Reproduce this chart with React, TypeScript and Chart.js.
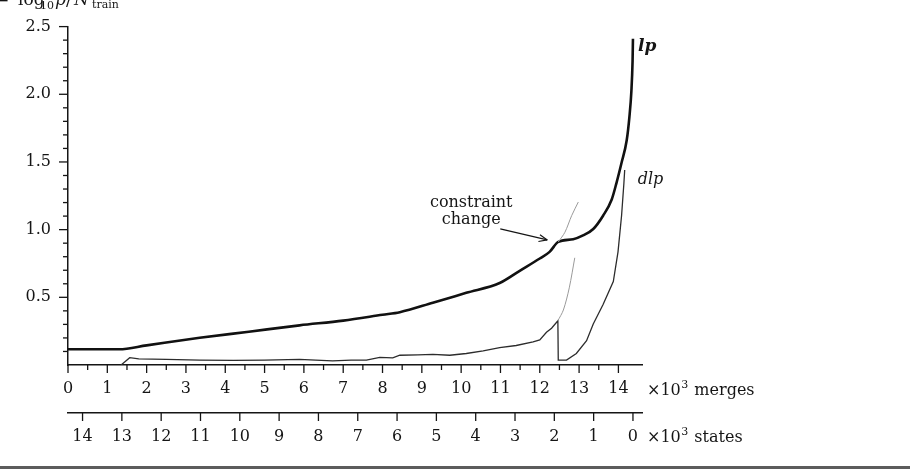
import { useEffect, useRef } from 'react';
import { Chart, registerables } from 'chart.js';

Chart.register(...registerables);

// ---- data (x in thousands of merges, y = -log10 p / N_train) ----
const lpMerges = [0, 1.3, 2.0, 3.35, 4.6, 5.89, 7.0, 8.0, 8.44, 9.28, 10.13, 10.98, 11.5, 12.0, 12.25, 12.47, 12.85, 13.1, 13.36, 13.61, 13.83, 13.95, 14.08, 14.21, 14.28, 14.33, 14.36, 14.37];
const lpValues = [0.116, 0.116, 0.145, 0.201, 0.246, 0.293, 0.328, 0.371, 0.39, 0.46, 0.533, 0.606, 0.698, 0.787, 0.836, 0.909, 0.929, 0.957, 1.005, 1.103, 1.223, 1.344, 1.494, 1.658, 1.833, 2.023, 2.243, 2.411];

const dlpMerges = [1.35, 1.57, 1.8, 2.5, 3.35, 4.2, 5.0, 5.89, 6.3, 6.73, 7.2, 7.59, 7.93, 8.26, 8.44, 8.9, 9.28, 9.71, 10.13, 10.56, 10.98, 11.4, 11.83, 12.0, 12.17, 12.3, 12.46, 12.47, 12.68, 12.93, 13.19, 13.36, 13.61, 13.87, 13.99, 14.08, 14.14, 14.16];
const dlpValues = [0.0, 0.054, 0.045, 0.041, 0.036, 0.034, 0.036, 0.041, 0.036, 0.031, 0.036, 0.036, 0.056, 0.053, 0.072, 0.075, 0.079, 0.072, 0.085, 0.104, 0.129, 0.144, 0.17, 0.185, 0.242, 0.272, 0.327, 0.036, 0.036, 0.085, 0.18, 0.303, 0.447, 0.617, 0.836, 1.103, 1.344, 1.441];

// faint continuations without the constraint change
const lpFreeMerges = [12.47, 12.64, 12.81, 12.98];
const lpFreeValues = [0.909, 0.981, 1.103, 1.204];
const dlpFreeMerges = [12.46, 12.6, 12.75, 12.89];
const dlpFreeValues = [0.327, 0.406, 0.57, 0.792];

const constraintChangeAt = 12.47;

// ---- ticks ----
const yLabelTicks = [0.5, 1.0, 1.5, 2.0, 2.5];
const yMinorTicks = [0.1, 0.2, 0.3, 0.4, 0.6, 0.7, 0.8, 0.9, 1.1, 1.2, 1.3, 1.4, 1.6, 1.7, 1.8, 1.9, 2.1, 2.2, 2.3, 2.4];
const mergeLabelTicks = [0, 1, 2, 3, 4, 5, 6, 7, 8, 9, 10, 11, 12, 13, 14];
const mergeMinorTicks = [0.5, 1.5, 2.5, 3.5, 4.5, 5.5, 6.5, 7.5, 8.5, 9.5, 10.5, 11.5, 12.5, 13.5];
const stateLabelTicks = [14, 13, 12, 11, 10, 9, 8, 7, 6, 5, 4, 3, 2, 1, 0];

const FAMILY = '"DejaVu Serif", "Liberation Serif", serif';
const INK = '#151515';

const pts = (xs: number[], ys: number[]) => xs.map((x, i) => ({ x, y: ys[i] }));

function interp(xs: number[], ys: number[], x: number) {
  for (let i = 1; i < xs.length; i++) {
    if (x <= xs[i]) {
      const t = (x - xs[i - 1]) / (xs[i] - xs[i - 1] || 1);
      return ys[i - 1] + t * (ys[i] - ys[i - 1]);
    }
  }
  return ys[ys.length - 1];
}

function drawSup(ctx: CanvasRenderingContext2D, x: number, y: number, pre: string, sup: string, post: string) {
  ctx.font = `16px ${FAMILY}`;
  ctx.fillText(pre, x, y);
  let cx = x + ctx.measureText(pre).width;
  ctx.font = `11px ${FAMILY}`;
  ctx.fillText(sup, cx + 0.5, y - 7);
  cx += ctx.measureText(sup).width + 1.5;
  ctx.font = `16px ${FAMILY}`;
  ctx.fillText(post, cx, y);
}

const decorPlugin = {
  id: 'decor',
  afterDraw(chart: any) {
    const ctx: CanvasRenderingContext2D = chart.ctx;
    const xs = chart.scales.x;
    const ss = chart.scales.states;
    const ys = chart.scales.y;
    const area = chart.chartArea;
    ctx.save();
    ctx.strokeStyle = INK;
    ctx.lineWidth = 1.3;
    const seg = (x1: number, y1: number, x2: number, y2: number) => {
      ctx.beginPath();
      ctx.moveTo(x1, y1);
      ctx.lineTo(x2, y2);
      ctx.stroke();
    };
    // y ticks (pointing left)
    yLabelTicks.forEach((v) => {
      const p = ys.getPixelForValue(v);
      seg(area.left - 9, p, area.left, p);
    });
    yMinorTicks.forEach((v) => {
      const p = ys.getPixelForValue(v);
      seg(area.left - 5, p, area.left, p);
    });
    // merges ticks (hanging down)
    mergeLabelTicks.forEach((v) => {
      const p = xs.getPixelForValue(v);
      seg(p, xs.top, p, xs.top + 8);
    });
    mergeMinorTicks.forEach((v) => {
      const p = xs.getPixelForValue(v);
      seg(p, xs.top, p, xs.top + 5);
    });
    // states ticks
    stateLabelTicks.forEach((v) => {
      const p = ss.getPixelForValue(v);
      seg(p, ss.top, p, ss.top + 8);
    });

    ctx.fillStyle = INK;
    ctx.textBaseline = 'alphabetic';
    ctx.textAlign = 'left';
    // axis unit labels
    const right = area.right;
    drawSup(ctx, right + 5, xs.top + 30, '\u00d710', '3', ' merges');
    drawSup(ctx, right + 5, ss.top + 29, '\u00d710', '3', ' states');

    // y axis title (clipped at top of picture)
    ctx.font = `17px ${FAMILY}`;
    ctx.fillText('\u2212', -5, 6);
    ctx.fillText('log', 18, 5);
    ctx.font = `11px ${FAMILY}`;
    ctx.fillText('10', 40, 9);
    ctx.font = `italic 17px ${FAMILY}`;
    ctx.fillText('p', 55, 5);
    ctx.font = `17px ${FAMILY}`;
    ctx.fillText('/', 66, 5);
    ctx.font = `italic 17px ${FAMILY}`;
    ctx.fillText('N', 74, 5);
    ctx.font = `11px ${FAMILY}`;
    ctx.fillText('train', 92, 8);

    // series labels
    const lpEndX = xs.getPixelForValue(lpMerges[lpMerges.length - 1]);
    const lpEndY = ys.getPixelForValue(lpValues[lpValues.length - 1]);
    ctx.font = `bold italic 17px ${FAMILY}`;
    ctx.fillText('lp', lpEndX + 5, lpEndY + 12);
    const dlpEndX = xs.getPixelForValue(dlpMerges[dlpMerges.length - 1]);
    const dlpEndY = ys.getPixelForValue(dlpValues[dlpValues.length - 1]);
    ctx.font = `italic 16px ${FAMILY}`;
    ctx.fillText('dlp', dlpEndX + 13, dlpEndY + 14);

    // constraint change annotation
    const kx = xs.getPixelForValue(constraintChangeAt);
    const ky = ys.getPixelForValue(interp(lpMerges, lpValues, constraintChangeAt));
    ctx.font = `16px ${FAMILY}`;
    ctx.textAlign = 'center';
    ctx.fillText('constraint', kx - 87, ky - 35);
    ctx.fillText('change', kx - 87, ky - 18);
    const ax1 = kx - 58, ay1 = ky - 13;
    const ax2 = kx - 11, ay2 = ky - 2;
    ctx.lineWidth = 1.2;
    seg(ax1, ay1, ax2, ay2);
    const ang = Math.atan2(ay2 - ay1, ax2 - ax1);
    const hl = 9;
    seg(ax2, ay2, ax2 - hl * Math.cos(ang - 0.4), ay2 - hl * Math.sin(ang - 0.4));
    seg(ax2, ay2, ax2 - hl * Math.cos(ang + 0.4), ay2 - hl * Math.sin(ang + 0.4));

    // bottom separator rule
    ctx.fillStyle = '#5c5c5c';
    ctx.fillRect(0, 466, chart.width, 3);
    ctx.restore();
  },
};

export default function App() {
  const ref = useRef<HTMLCanvasElement | null>(null);
  useEffect(() => {
    if (!ref.current) return;
    const tickFont = { family: FAMILY, size: 16 };
    const chart = new Chart(ref.current, {
      type: 'line',
      data: {
        datasets: [
          { label: 'lp-free', data: pts(lpFreeMerges, lpFreeValues), borderColor: '#9a9a9a', borderWidth: 1, pointRadius: 0, tension: 0.3 },
          { label: 'dlp-free', data: pts(dlpFreeMerges, dlpFreeValues), borderColor: '#9a9a9a', borderWidth: 1, pointRadius: 0, tension: 0.3 },
          { label: 'dlp', data: pts(dlpMerges, dlpValues), borderColor: '#2c2c2c', borderWidth: 1.3, pointRadius: 0, tension: 0 },
          { label: 'lp', data: pts(lpMerges, lpValues), borderColor: '#111', borderWidth: 2.6, pointRadius: 0, cubicInterpolationMode: 'monotone' },
        ],
      },
      options: {
        responsive: false,
        animation: false,
        devicePixelRatio: 1,
        layout: { padding: { left: 0, right: 268, top: 21, bottom: 19 } },
        plugins: { legend: { display: false }, tooltip: { enabled: false } },
        scales: {
          x: {
            type: 'linear',
            position: 'bottom',
            min: 0,
            max: 14.6,
            afterBuildTicks: (sc: any) => { sc.ticks = mergeLabelTicks.map((v) => ({ value: v })); },
            afterFit: (sc: any) => { sc.height = 48; },
            ticks: { autoSkip: false, maxRotation: 0, padding: 14, font: tickFont, color: INK, callback: (v: any) => String(v) },
            grid: { display: true, drawOnChartArea: false, drawTicks: false },
            border: { display: true, color: INK, width: 1.5 },
          },
          states: {
            type: 'linear',
            position: 'bottom',
            reverse: true,
            min: -0.23,
            max: 14.37,
            afterBuildTicks: (sc: any) => { sc.ticks = stateLabelTicks.map((v) => ({ value: v })); },
            afterFit: (sc: any) => { sc.height = 40; },
            ticks: { autoSkip: false, maxRotation: 0, padding: 14, font: tickFont, color: INK, callback: (v: any) => String(v) },
            grid: { display: true, drawOnChartArea: false, drawTicks: false },
            border: { display: true, color: INK, width: 1.5 },
          },
          y: {
            type: 'linear',
            min: 0,
            max: 2.5,
            afterBuildTicks: (sc: any) => { sc.ticks = yLabelTicks.map((v) => ({ value: v })); },
            afterFit: (sc: any) => { sc.width = 68; },
            ticks: { autoSkip: false, padding: 17, font: tickFont, color: INK, callback: (v: any) => Number(v).toFixed(1) },
            grid: { display: true, drawOnChartArea: false, drawTicks: false },
            border: { display: true, color: INK, width: 1.5 },
          },
        },
      } as any,
      plugins: [decorPlugin],
    });
    return () => chart.destroy();
  }, []);
  return (
    <div style={{ position: 'absolute', left: 0, top: 0, width: 910, height: 472, background: '#fff' }}>
      <canvas ref={ref} width={910} height={472} style={{ display: 'block' }} />
    </div>
  );
}
